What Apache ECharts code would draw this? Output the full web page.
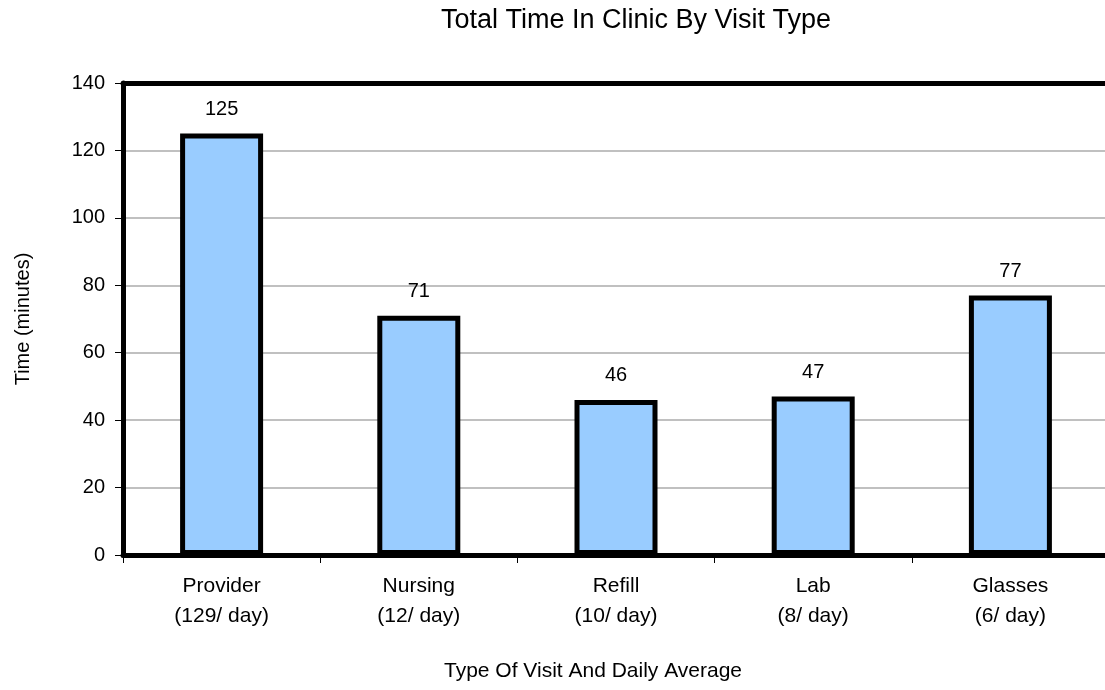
<!DOCTYPE html>
<html>
<head>
<meta charset="utf-8">
<title>Total Time In Clinic By Visit Type</title>
<script src="https://cdn.jsdelivr.net/npm/echarts@6/dist/echarts.min.js"></script>
<style>
  html, body { margin: 0; padding: 0; background: #ffffff; overflow: hidden; }
  /* the plot runs past the right edge of the page, so the canvas is a little wider */
  #chart { width: 1115px; height: 690px; }
</style>
</head>
<body>
<div id="chart"></div>
<script>
// Visit types with their daily average counts
const visitTypes = ['Provider', 'Nursing', 'Refill', 'Lab', 'Glasses'];
const dailyAverages = ['129/ day', '12/ day', '10/ day', '8/ day', '6/ day'];
// Total time in clinic, minutes
const minutesInClinic = [125, 71, 46, 47, 77];
// Value axis range
const yMin = 0, yMax = 140, yStep = 20;

const categoryLabels = visitTypes.map((t, i) => t + '\n(' + dailyAverages[i] + ')');
const FONT = '"Liberation Sans", Arial, sans-serif';

const chart = echarts.init(document.getElementById('chart'), null, { renderer: 'canvas' });
chart.setOption({
  animation: false,
  backgroundColor: '#ffffff',
  textStyle: { fontFamily: FONT, color: '#000' },
  title: {
    text: 'Total Time In Clinic By Visit Type',
    left: 631,
    top: 2,
    textAlign: 'center',
    textStyle: { fontFamily: FONT, fontSize: 27, fontWeight: 'normal', color: '#000' }
  },
  grid: {
    show: false,
    left: 123,
    top: 83,
    width: 986,
    height: 472,
    containLabel: false
  },
  xAxis: [{
    type: 'category',
    data: categoryLabels,
    name: 'Type Of Visit And Daily Average',
    nameLocation: 'middle',
    nameGap: 106,
    nameTextStyle: { fontFamily: FONT, fontSize: 21, color: '#000', padding: [0, 46, 0, 0] },
    axisLine: { lineStyle: { color: '#000', width: 5 } },
    axisTick: { show: true, alignWithLabel: false, length: 8, lineStyle: { color: '#000', width: 1 } },
    axisLabel: { fontFamily: FONT, fontSize: 21, color: '#000', margin: 16, lineHeight: 30, interval: 0 },
    splitLine: { show: false },
    z: 5
  }, {
    // heavy frame line along the top of the plot
    type: 'category',
    data: categoryLabels,
    position: 'top',
    axisLine: { show: true, lineStyle: { color: '#000', width: 5 } },
    axisTick: { show: false },
    axisLabel: { show: false },
    splitLine: { show: false },
    z: 5
  }],
  yAxis: {
    type: 'value',
    min: yMin,
    max: yMax,
    interval: yStep,
    name: 'Time (minutes)',
    nameLocation: 'middle',
    nameGap: 90,
    nameRotate: 90,
    nameTextStyle: { fontFamily: FONT, fontSize: 20, color: '#000' },
    axisLine: { show: true, lineStyle: { color: '#000', width: 5 } },
    axisTick: { show: true, length: 8, lineStyle: { color: '#000', width: 1 } },
    axisLabel: { fontFamily: FONT, fontSize: 20, color: '#000', margin: 18 },
    splitLine: { show: true, lineStyle: { color: '#c0c0c0', width: 2 } }
  },
  series: [{
    type: 'bar',
    xAxisIndex: 0,
    data: minutesInClinic,
    barWidth: 83,
    itemStyle: { color: '#99ccff', borderColor: '#000', borderWidth: 5 },
    label: {
      show: true,
      position: 'top',
      distance: 14,
      fontFamily: FONT,
      fontSize: 20,
      color: '#000'
    }
  }]
});
</script>
</body>
</html>
